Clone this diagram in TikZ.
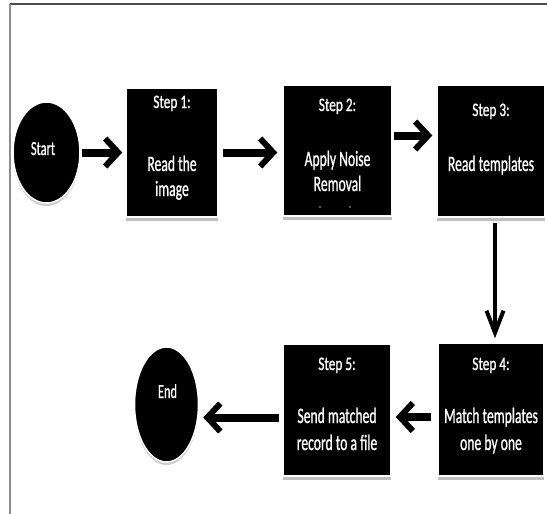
\documentclass[tikz,border=0pt]{standalone}
\usepackage{fontspec}
\usetikzlibrary{arrows.meta,shapes.geometric,shadows}
\newfontfamily\titlefont[FakeStretch=0.7,FakeBold=0.8]{Carlito}
\newfontfamily\bodyfont[FakeStretch=0.62,FakeBold=0.8]{Carlito}

\tikzset{
  stepbox/.style={rectangle, fill=black, draw=white, line width=1.5pt,
    inner sep=0pt,
    drop shadow={shadow xshift=0pt, shadow yshift=-4pt, fill=black!45, opacity=0.55}},
  terminal/.style={ellipse, fill=black, draw=white, line width=1.5pt,
    inner sep=0pt,
    drop shadow={shadow xshift=0pt, shadow yshift=-3pt, fill=black!40, opacity=0.5}},
  titletext/.style={text=white, anchor=base, inner sep=0pt,
    font=\titlefont\fontsize{19}{21}\selectfont},
  bodytext/.style={text=white, anchor=base, inner sep=0pt,
    font=\bodyfont\fontsize{22}{25}\selectfont},
  endtext/.style={text=white, anchor=base, inner sep=0pt,
    font=\bodyfont\fontsize{20}{22}\selectfont},
  flow/.style={line width=8pt,
    -{Straight Barb[length=13pt, width=28pt, line width=6pt]}},
  flowdown/.style={line width=3.5pt,
    -{Straight Barb[length=22pt, width=17pt, line width=4pt]}},
  frameline/.style={line width=1.3pt}
}

\begin{document}
\begin{tikzpicture}[x=1pt, y=-1pt]
  \useasboundingbox (0,0) rectangle (547,514);

  % page frame
  \draw[frameline, black!70] (10,4) -- (547,4);
  \draw[frameline, black!45] (10,4) -- (10,514);

  % terminals
  \node[terminal, minimum width=67pt, minimum height=101pt] (start) at (46.5,152.5) {};
  \node[terminal, minimum width=64pt, minimum height=115pt] (end) at (166.5,404.5) {};

  % process steps
  \node[stepbox, minimum width=92pt, minimum height=129pt] (step1) at (172,152.5) {};
  \node[stepbox, minimum width=109pt, minimum height=131pt] (step2) at (337.5,150.5) {};
  \node[stepbox, minimum width=108pt, minimum height=132pt] (step3) at (491,151) {};
  \node[stepbox, minimum width=106pt, minimum height=133pt] (step4) at (491,409.5) {};
  \node[stepbox, minimum width=108pt, minimum height=132pt] (step5) at (337,410) {};

  % texts
  \node[endtext] (starttext) at (43,155) {Start};
  \node[endtext] (endtext) at (167.5,398) {End};

  \node[titletext] (t1) at (172,108) {Step 1:};
  \node[bodytext] (b1a) at (172,171) {Read the};
  \node[bodytext] (b1b) at (172,196) {image};

  \node[titletext] (t2) at (337.5,111) {Step 2:};
  \node[bodytext] (b2a) at (337.5,166) {Apply Noise};
  \node[bodytext] (b2b) at (337.5,191) {Removal};
  \fill[white!70!black] (320,207) circle (0.8pt) (350,207) circle (0.8pt);

  \node[titletext] (t3) at (491,116) {Step 3:};
  \node[bodytext] (b3a) at (491,171) {Read templates};

  \node[titletext] (t4) at (491,370) {Step 4:};
  \node[bodytext] (b4a) at (491,423) {Match templates};
  \node[bodytext] (b4b) at (491,450) {one by one};

  \node[titletext] (t5) at (337,370) {Step 5:};
  \node[bodytext] (b5a) at (337,423) {Send matched};
  \node[bodytext] (b5b) at (337,450) {record to a file};

  % connectors
  \draw[flow, shorten >=3pt, shorten <=1pt] (start.east) -- (start.east -| step1.west);
  \draw[flow, shorten >=5pt, shorten <=4pt] (step1.east) -- (step1.east -| step2.west);
  \draw[flow, shorten >=4pt, shorten <=1pt] ([yshift=15pt]step2.east) -- ([yshift=15pt]step2.east -| step3.west);
  \draw[flowdown, shorten >=4pt, shorten <=5pt] ([xshift=4pt]step3.south) -- ([xshift=4pt]step3.south |- step4.north);
  \draw[flow, shorten >=4pt, shorten <=6pt] ([yshift=-7.5pt]step4.west) -- ([yshift=-7.5pt]step4.west -| step5.east);
  \draw[flow, shorten >=4pt, shorten <=3pt] ([yshift=-7.5pt]step5.west) -- ([yshift=-7.5pt]step5.west -| end.east);
\end{tikzpicture}
\end{document}
